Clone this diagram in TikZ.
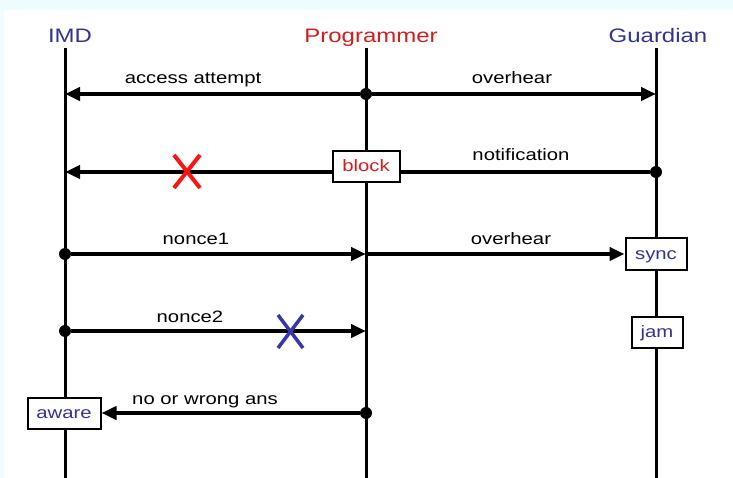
\documentclass[tikz,border=0pt]{standalone}
\usepackage{fontspec}
\setmainfont{Liberation Sans}[FakeStretch=1.23]
\usetikzlibrary{arrows.meta, positioning}
\usepackage{xcolor}
\definecolor{imdblue}{RGB}{51,51,150}
\definecolor{progred}{RGB}{212,30,30}
\definecolor{crossred}{RGB}{250,20,20}
\definecolor{crossblue}{RGB}{55,55,170}
\definecolor{edgecyan}{RGB}{238,252,255}

\tikzset{
  lifeline/.style={line width=3pt},
  msg/.style={line width=4pt, -{Triangle[length=15pt,width=13pt]}},
  title/.style={font=\fontsize{19.5}{22}\selectfont, anchor=base},
  lbl/.style={font=\fontsize{16.5}{19}\selectfont, anchor=base},
  state/.style={draw, line width=2pt, fill=white, inner sep=0pt, minimum height=31pt,
                text height=12pt, text depth=2pt,
                font=\fontsize{16.5}{19}\selectfont, text=imdblue},
  dot/.style={circle, fill=black, inner sep=0pt, minimum size=12pt},
  cross/.style={line width=4pt}
}

\begin{document}
\begin{tikzpicture}[x=1pt, y=-1pt]
\useasboundingbox (0,0) rectangle (733,478);
\fill [edgecyan] (0,0) rectangle (733,478);
\fill [white] (4,10) rectangle (733,478);

% the three parties
\node [title, text=imdblue] (imd) at (70,43) {IMD};
\node [title, text=progred] (prog) at (371,43) {Programmer};
\node [title, text=imdblue] (guard) at (658,43) {Guardian};
\draw [lifeline] (65,48) -- (65,478);
\draw [lifeline] (366,48) -- (366,478);
\draw [lifeline] (656,48) -- (656,478);

% access attempt / overhear
\node [dot] (p1) at (366,94) {};
\coordinate (i1) at (65,94);
\coordinate (g1) at (656,94);
\draw [msg] (p1) -- (i1);
\draw [msg] (p1) -- (g1);
\node [lbl] (l1) at (193,84) {access attempt};
\node [lbl] (l2) at (512,84) {overhear};

% notification, blocked
\node [dot] (g2) at (656,172) {};
\coordinate (i2) at (65,172);
\draw [msg] (g2) -- (i2);
\node [state, text=progred, minimum width=67pt] (block) at (366,167) {block};
\node [lbl] (l3) at (521,161) {notification};
\draw [cross, crossred] (174,155) -- (200,188);
\draw [cross, crossred] (200,155) -- (174,188);

% nonce1 and overhear
\node [dot] (i3) at (65,254) {};
\coordinate (p3) at (366,254);
\node [state, minimum width=61pt] (sync) at (656,254) {sync};
\draw [msg] (i3) -- (p3);
\draw [msg] (p3) -- (sync);
\node [lbl] (l4) at (196,244) {nonce1};
\node [lbl] (l5) at (511,244) {overhear};

% nonce2, jammed
\node [dot] (i4) at (65,331) {};
\coordinate (p4) at (366,331);
\draw [msg] (i4) -- (p4);
\node [state, minimum width=51pt] (jam) at (657,332) {jam};
\node [lbl] (l6) at (190,322) {nonce2};
\draw [cross, crossblue, line width=3.5pt] (278,315) -- (303,348);
\draw [cross, crossblue, line width=3.5pt] (303,315) -- (278,348);

% no answer
\node [dot] (p5) at (366,413) {};
\node [state, minimum width=73pt] (aware) at (64,413) {aware};
\draw [msg] (p5) -- (aware);
\node [lbl] (l7) at (205,404) {no or wrong ans};
\end{tikzpicture}
\end{document}
